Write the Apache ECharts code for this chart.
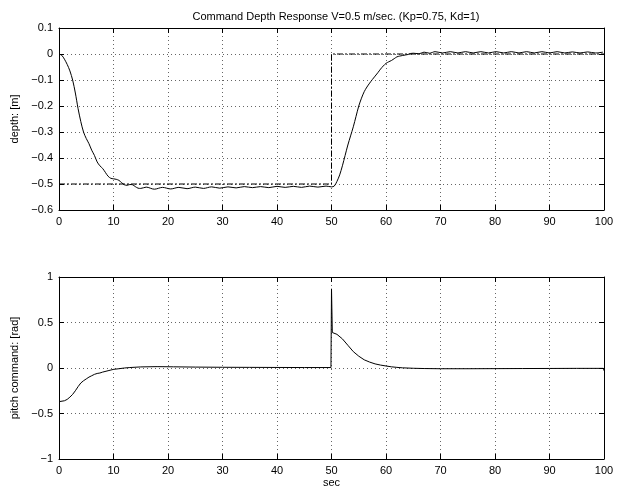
<!DOCTYPE html>
<html><head><meta charset="utf-8">
<script src="https://cdn.jsdelivr.net/npm/echarts@6/dist/echarts.min.js"></script>
<style>html,body{margin:0;padding:0;background:#fff}#c{width:624px;height:492px}</style>
</head><body><div id="c"></div>
<script>
// Top plot: depth response (solid) and commanded depth (dash-dot)
var depthT = [0,0.5,1,1.5,2,2.5,3,3.5,4,4.5,5,5.5,6,6.5,7,7.5,8,8.5,9,9.5,10,10.5,11,11.5,12,12.5,13,13.5,14,14.5,15,
  16,17.5,19,20.5,22,23.5,25,26.5,28,29.5,31,32.5,34,35.5,37,38.5,40,41.5,43,44.5,46,47.5,49,50,50.5,
  51,51.5,52,52.5,53,53.5,54,54.5,55,55.5,56,56.5,57,57.5,58,58.5,59,59.5,60,60.5,61,61.5,62,62.5,63,63.5,64,64.5,65,
  66,67,68,69,70.4,71.8,73.2,74.6,76,77.4,78.8,80.2,81.6,83,84.4,85.8,87.2,88.6,90,91.4,92.8,94.2,95.6,97,98.4,99.8];
var depthV = [0,-0.005,-0.02,-0.04,-0.065,-0.10,-0.15,-0.21,-0.26,-0.30,-0.325,-0.345,-0.37,-0.39,-0.415,-0.43,-0.44,-0.455,-0.47,-0.478,-0.48,-0.482,-0.486,-0.495,-0.503,-0.505,-0.502,-0.503,-0.51,-0.516,-0.517,
  -0.512,-0.52,-0.513,-0.519,-0.513,-0.518,-0.512,-0.517,-0.511,-0.516,-0.511,-0.515,-0.510,-0.514,-0.510,-0.514,-0.509,-0.513,-0.509,-0.513,-0.508,-0.512,-0.508,-0.511,-0.508,
  -0.49,-0.465,-0.43,-0.39,-0.35,-0.315,-0.28,-0.24,-0.20,-0.17,-0.145,-0.127,-0.112,-0.098,-0.085,-0.072,-0.058,-0.046,-0.036,-0.03,-0.025,-0.018,-0.011,-0.008,-0.006,-0.004,-0.002,0.002,0.003,
  0.001,0.007,0.003,0.009,0.004,0.009,0.004,0.009,0.004,0.009,0.004,0.009,0.004,0.009,0.004,0.009,0.004,0.009,0.004,0.009,0.004,0.008,0.004,0.008,0.004,0.007];
var cmdT = [0,50,50,100];
var cmdV = [-0.5,-0.5,0,0];
// Bottom plot: pitch command
var pitchT = [0,1,1.5,2,2.5,3,3.5,4,4.5,5,5.5,6,6.5,7,7.5,8,9,10,11,12,13,15,18,21,25,30,35,40,45,49.9,
  50,50.15,51,52,53,54,55,56,57,58,59,60,61,62,63,65,67,70,75,80,85,90,95,99.9,100];
var pitchV = [-0.37,-0.36,-0.345,-0.32,-0.29,-0.25,-0.205,-0.165,-0.14,-0.12,-0.10,-0.085,-0.07,-0.06,-0.055,-0.045,-0.03,-0.015,-0.008,0.0,0.005,0.012,0.015,0.013,0.01,0.008,0.007,0.006,0.005,0.005,
  0.87,0.39,0.37,0.32,0.25,0.18,0.13,0.09,0.065,0.045,0.032,0.022,0.013,0.007,0.002,-0.003,-0.006,-0.008,-0.008,-0.007,-0.006,-0.005,-0.004,-0.004,-0.03];
var xTicks = [0,10,20,30,40,50,60,70,80,90,100];
var depthTicks = [-0.6,-0.5,-0.4,-0.3,-0.2,-0.1,0,0.1];
var pitchTicks = [-1,-0.5,0,0.5,1];

function zip(a,b){var r=[];for(var i=0;i<a.length;i++)r.push([a[i],b[i]]);return r;}
var FONT = 'Liberation Sans';
function fmt(v){var s=String(Math.round(v*1000)/1000);return s.replace('-','\u2212');}
var tick = {show:true,inside:true,length:5,lineStyle:{color:'#000',width:1}};
var line = {show:true,onZero:false,lineStyle:{color:'#000',width:1}};
var grid = {show:true,lineStyle:{color:'#666',type:[1,3],width:1}};
var lab = {color:'#000',fontFamily:FONT,fontSize:11,margin:6,formatter:fmt};

function xa(gi,main){
  return {type:'value',gridIndex:gi,min:0,max:100,interval:10,position:main?'bottom':'top',
    axisLine:line,axisTick:tick,axisLabel:main?lab:{show:false},splitLine:main?grid:{show:false},
    name:(main&&gi===1)?'sec':'',nameLocation:'middle',nameGap:18,
    nameTextStyle:{color:'#000',fontFamily:FONT,fontSize:11}};
}
function ya(gi,main,mn,mx,iv,name){
  return {type:'value',gridIndex:gi,min:mn,max:mx,interval:iv,position:main?'left':'right',
    axisLine:line,axisTick:tick,axisLabel:main?lab:{show:false},splitLine:main?grid:{show:false},
    name:main?name:'',nameLocation:'middle',nameGap:main?(gi===0?32:28):0,
    nameTextStyle:{color:'#000',fontFamily:FONT,fontSize:11}};
}

var chart = echarts.init(document.getElementById('c'),null,{renderer:'canvas'});
chart.setOption({
  animation:false,
  backgroundColor:'#fff',
  title:{text:'Command Depth Response V=0.5 m/sec. (Kp=0.75, Kd=1)',left:331,top:6,textAlign:'center',
    textStyle:{color:'#000',fontFamily:FONT,fontSize:11,fontWeight:'normal'}},
  grid:[{left:59,right:20,top:28,height:182},{left:59,right:20,top:277,height:182}],
  xAxis:[xa(0,true),xa(0,false),xa(1,true),xa(1,false)],
  yAxis:[ya(0,true,-0.6,0.1,0.1,'depth: [m]'),ya(0,false,-0.6,0.1,0.1,''),
         ya(1,true,-1,1,0.5,'pitch command: [rad]'),ya(1,false,-1,1,0.5,'')],
  series:[
    {type:'line',xAxisIndex:0,yAxisIndex:0,data:zip(cmdT,cmdV),showSymbol:false,symbol:'none',
     lineStyle:{color:'#000',width:1,type:[6,2,2,2]}},
    {type:'line',xAxisIndex:0,yAxisIndex:0,data:zip(depthT,depthV),showSymbol:false,symbol:'none',smooth:0.3,
     lineStyle:{color:'#000',width:1}},
    {type:'line',xAxisIndex:2,yAxisIndex:2,data:zip(pitchT,pitchV),showSymbol:false,symbol:'none',
     lineStyle:{color:'#000',width:1}}
  ]
});
</script></body></html>
